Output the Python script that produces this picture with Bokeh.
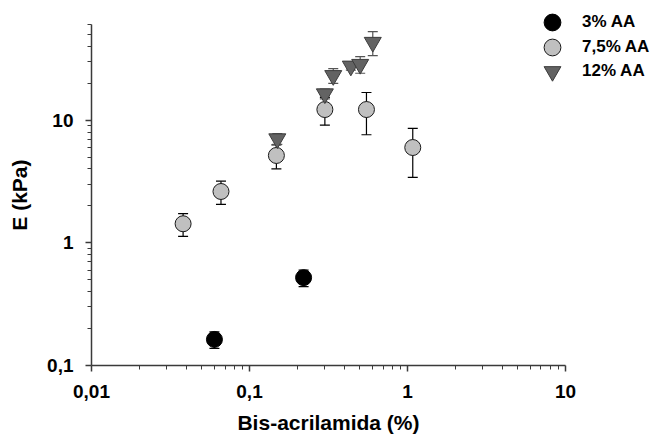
import math
from bokeh.plotting import figure
from bokeh.models import (ColumnDataSource, Whisker, TeeHead, FixedTicker,
                          Legend, LegendItem, LogAxis)
from bokeh.embed import file_html
from bokeh.resources import INLINE

# ---- data ----
aa3_x = [0.060, 0.22]
aa3_y = [0.163, 0.52]
aa3_err = [0.025, 0.08]

aa75_x = [0.038, 0.066, 0.148, 0.30, 0.55, 1.08]
aa75_y = [1.43, 2.62, 5.15, 12.2, 12.2, 5.98]
aa75_err = [0.30, 0.56, 1.14, 3.1, 4.6, 2.57]

aa12_x = [0.150, 0.30, 0.339, 0.438, 0.502, 0.603]
aa12_y = [7.05, 16.4, 23.1, 27.6, 28.5, 43.1]
aa12_err = [0.7, 1.5, 3.2, 2.0, 4.4, 9.5]

series_labels = ["3% AA", "7,5% AA", "12% AA"]

x_ticks = [0.01, 0.1, 1, 10]
x_tick_labels = ["0,01", "0,1", "1", "10"]
y_ticks = [0.1, 1, 10]
y_tick_labels = ["0,1", "1", "10"]
x_bounds = (0.01, 10)
y_bounds = (0.1, 60)

x_title = "Bis-acrilamida (%)"
y_title = "E (kPa)"

FONT = "Liberation Sans"
AXIS_COL = "#3a3a3a"

# frame spans to the right/top edges so the legend is never clipped;
# the axes themselves stop at 10 and 60 (axis bounds)
p = figure(width=658, height=439, x_axis_type="log", y_axis_type="log",
           x_range=(0.01, 38.8), y_range=(0.1, 94.4),
           output_backend="svg", toolbar_location=None,
           min_border_left=91, min_border_right=0,
           min_border_top=0, min_border_bottom=74)
p.xgrid.visible = False
p.ygrid.visible = False
p.outline_line_color = None
p.background_fill_color = "white"
p.border_fill_color = "white"


def make_src(xs, ys, errs):
    return ColumnDataSource(dict(
        x=xs, y=ys,
        upper=[a + b for a, b in zip(ys, errs)],
        lower=[a - b for a, b in zip(ys, errs)]))


s3 = make_src(aa3_x, aa3_y, aa3_err)
s75 = make_src(aa75_x, aa75_y, aa75_err)
s12 = make_src(aa12_x, aa12_y, aa12_err)

for src, col in [(s3, "black"), (s75, "black"), (s12, "#555555")]:
    w = Whisker(source=src, base="x", upper="upper", lower="lower",
                line_color=col, line_width=1.2, level="underlay",
                upper_head=TeeHead(size=10, line_color=col, line_width=1.2),
                lower_head=TeeHead(size=10, line_color=col, line_width=1.2))
    p.add_layout(w)

r3 = p.scatter("x", "y", source=s3, marker="circle", size=16,
               fill_color="black", line_color="black", line_width=1)
r75 = p.scatter("x", "y", source=s75, marker="circle", size=16,
                fill_color="#c0c0c0", line_color="#1a1a1a", line_width=1)
r12 = p.scatter("x", "y", source=s12, marker="inverted_triangle", size=17,
                fill_color="#636363", line_color="#3c3c3c", line_width=1)

# axes
minor_x = [m * 10.0 ** e for e in (-2, -1, 0) for m in range(2, 10)]
minor_y = [m * 10.0 ** e for e in (-1, 0) for m in range(2, 10)] + [20, 30, 40, 50, 60]
p.xaxis.ticker = FixedTicker(ticks=x_ticks, minor_ticks=minor_x)
p.yaxis.ticker = FixedTicker(ticks=y_ticks, minor_ticks=minor_y)
p.xaxis.major_label_overrides = dict(zip(x_ticks, x_tick_labels))
p.yaxis.major_label_overrides = dict(zip(y_ticks, y_tick_labels))
p.xaxis.bounds = x_bounds
p.yaxis.bounds = y_bounds

for ax in (p.xaxis[0], p.yaxis[0]):
    ax.axis_line_color = AXIS_COL
    ax.axis_line_width = 1.5
    ax.major_tick_line_color = AXIS_COL
    ax.minor_tick_line_color = AXIS_COL
    ax.major_tick_line_width = 1.5
    ax.minor_tick_line_width = 1
    ax.major_tick_out = 6
    ax.major_tick_in = 0
    ax.minor_tick_out = 4
    ax.minor_tick_in = 0
    ax.major_label_text_font = FONT
    ax.major_label_text_font_style = "bold"
    ax.major_label_text_font_size = "19px"
    ax.major_label_text_color = "black"

p.xaxis.major_label_standoff = 13
p.yaxis.major_label_standoff = 12
p.yaxis.major_label_orientation = "horizontal"


# axis titles: drawn as the single label of a bare outer axis, centred
# (in log space) on the drawn extent of each axis
def title_axis(center, text, standoff, orientation):
    return LogAxis(ticker=FixedTicker(ticks=[center], minor_ticks=[]),
                   major_label_overrides={center: text},
                   axis_line_color=None, major_tick_line_color=None,
                   minor_tick_line_color=None, major_tick_out=0,
                   major_tick_in=0, minor_tick_out=0, minor_tick_in=0,
                   major_label_standoff=standoff,
                   major_label_orientation=orientation,
                   major_label_text_font=FONT,
                   major_label_text_font_style="bold",
                   major_label_text_font_size="21px",
                   major_label_text_color="black")


x_center = math.sqrt(x_bounds[0] * x_bounds[1])
y_center = math.sqrt(y_bounds[0] * y_bounds[1])
p.add_layout(title_axis(x_center, x_title, 10, "horizontal"), "below")
p.add_layout(title_axis(y_center, y_title, 13, "vertical"), "left")

# one small legend per series so the rows can sit closer than the glyph box
legend_rows = [(r3, 322), (r75, 297), (r12, 273)]
for (rend, vy), lab in zip(legend_rows, series_labels):
    lg = Legend(items=[LegendItem(label=lab, renderers=[rend])],
                location=(440, vy), orientation="vertical",
                glyph_width=42, glyph_height=42, label_height=20,
                spacing=0, padding=0, margin=0, label_standoff=9,
                border_line_color=None, background_fill_alpha=0,
                label_text_font=FONT, label_text_font_style="bold",
                label_text_font_size="17px", label_text_color="black")
    p.add_layout(lg, "center")

open("out.html", "w").write(file_html(p, INLINE))
